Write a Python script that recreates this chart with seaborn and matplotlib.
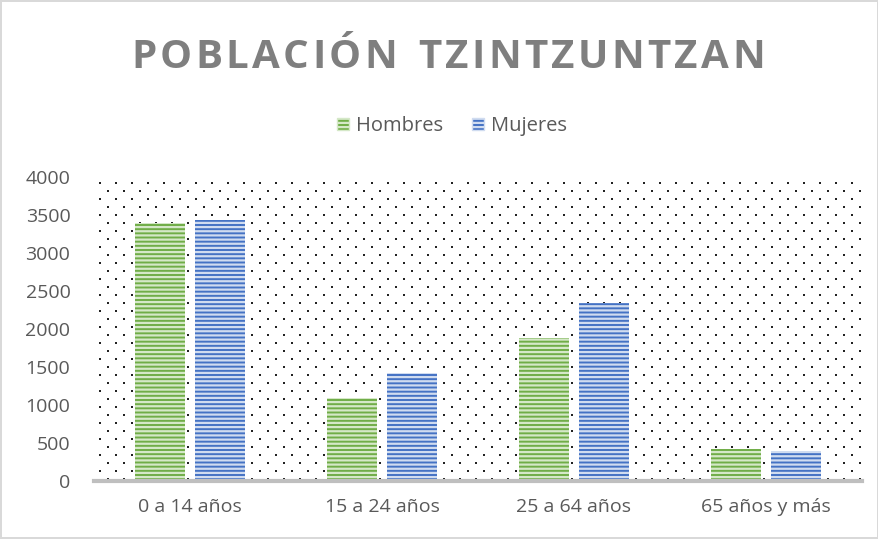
import numpy as np
import pandas as pd
import matplotlib
matplotlib.use("Agg")
import matplotlib.pyplot as plt
import seaborn as sns

categories = ["0 a 14 años", "15 a 24 años", "25 a 64 años", "65 años y más"]
hombres = [3390, 1090, 1880, 420]
mujeres = [3430, 1420, 2340, 395]
series = ["Hombres", "Mujeres"]
yticks = [0, 500, 1000, 1500, 2000, 2500, 3000, 3500, 4000]
title = "POBLACIÓN TZINTZUNTZAN"

df = pd.DataFrame({
    "cat": categories * 2,
    "val": hombres + mujeres,
    "serie": [series[0]] * 4 + [series[1]] * 4,
})

sns.set_style("white")
plt.rcParams["font.family"] = ["Open Sans", "DejaVu Sans"]
plt.rcParams["hatch.linewidth"] = 1.6

W, H = 879, 539
fig = plt.figure(figsize=(W / 100, H / 100), dpi=100)
fig.patch.set_edgecolor("#D9D9D9")
fig.patch.set_linewidth(1.5)

l, r, t, b = 94, 862, 177, 481
ax = fig.add_axes([l / W, 1 - b / H, (r - l) / W, (b - t) / H])

# dotted background pattern
aw, ah = r - l, b - t
pts_x, pts_y = [], []
row = 0
for yy in np.arange(6, ah, 8):
    off = 6 if row % 2 == 0 else 14
    for xx in np.arange(off, aw, 16):
        pts_x.append(xx / aw)
        pts_y.append(1 - yy / ah)
    row += 1
ax.scatter(pts_x, pts_y, s=2.2, marker="s", color="#222222", linewidths=0,
           transform=ax.transAxes, zorder=0, clip_on=True)

palette = {"Hombres": "#70AD47", "Mujeres": "#4472C4"}
sns.barplot(data=df, x="cat", y="val", hue="serie", order=categories,
            hue_order=series, palette=palette, width=0.625, gap=1 / 6,
            saturation=1, ax=ax, zorder=2, legend=True)

light = {"Hombres": "#D5E8C8", "Mujeres": "#D0DCF0"}
for cont, s in zip(ax.containers, series):
    for p in cont:
        p.set_hatch("----")
        p.set_edgecolor(light[s])
        p.set_linewidth(0)

ax.set_ylim(0, 4000)
ax.set_xlim(-0.5, 3.5)
ax.set_yticks(yticks)
ax.set_yticklabels([str(v) for v in yticks], fontsize=14, color="#595959")
ax.tick_params(axis="x", labelsize=14, labelcolor="#595959", length=0, pad=12)
ax.tick_params(axis="y", length=0, pad=17)
ax.set_xlabel("")
ax.set_ylabel("")
for sp in ["left", "right", "top"]:
    ax.spines[sp].set_visible(False)
ax.spines["bottom"].set_color("#BFBFBF")
ax.spines["bottom"].set_linewidth(3)
ax.spines["bottom"].set_zorder(3)
ax.set_facecolor("white")

leg = ax.legend(loc="center", bbox_to_anchor=(452 / W, 1 - 126 / H),
                bbox_transform=fig.transFigure, ncol=2, frameon=False,
                fontsize=14.5, handlelength=0.6, handleheight=0.6,
                handletextpad=0.35, columnspacing=1.4, labelcolor="#595959")
for h, s in zip(leg.legend_handles, series):
    h.set_hatch("----")
    h.set_edgecolor(light[s])

# title with wide letter spacing, drawn character by character
renderer = fig.canvas.get_renderer()
x0, x1 = 131, 765
ty = 1 - 57 / H
chars = []
widths = []
for ch in title:
    tx = fig.text(0, ty, ch, ha="left", va="center", fontsize=29,
                  fontweight="bold", color="#7F7F7F")
    w = tx.get_window_extent(renderer).width if ch != " " else 14
    chars.append(tx)
    widths.append(w)
n_gaps = len(title) - 1
track = (x1 - x0 - sum(widths)) / n_gaps
x = x0
for tx, w, ch in zip(chars, widths, title):
    tx.set_x(x / W)
    x += w + track

fig.savefig("out.png", dpi=100, edgecolor=fig.get_edgecolor())
